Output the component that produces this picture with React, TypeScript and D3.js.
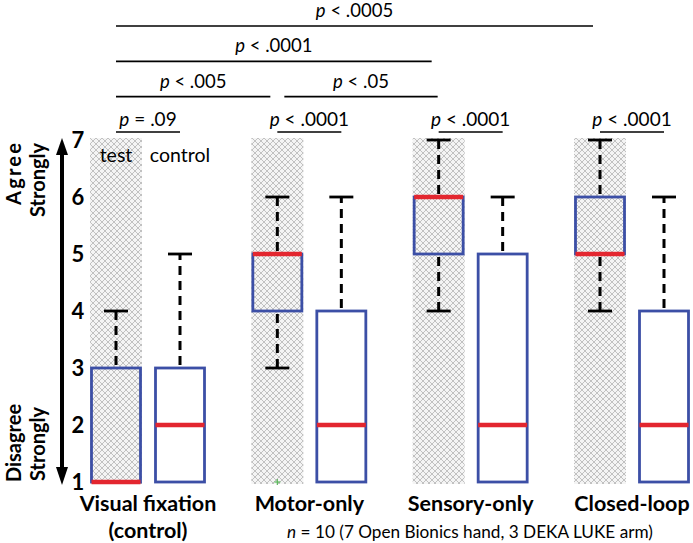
import React from 'react';
import * as d3 from 'd3';

const groups = ['Visual fixation', 'Motor-only', 'Sensory-only', 'Closed-loop'];
const groupSubLabels = ['(control)', '', '', ''];
// [min, q1, median, q3, max]
const testStats = [
  [1, 1, 1, 3, 4],
  [3, 4, 5, 5, 6],
  [4, 5, 6, 6, 7],
  [4, 5, 5, 6, 7],
];
const controlStats = [
  [1, 1, 2, 3, 5],
  [1, 1, 2, 4, 6],
  [1, 1, 2, 5, 6],
  [1, 1, 2, 4, 6],
];
const testOutliers = [[], [1], [], []];
const yTicks = [1, 2, 3, 4, 5, 6, 7];
// within-group comparisons (test vs control)
const withinP = ['= .09', '< .0001', '< .0001', '< .0001'];
// between-group comparisons of test conditions
const betweenLabels = ['< .005', '< .05', '< .0001', '< .0005'];
const betweenFrom = [0, 1, 0, 0];
const betweenTo = [1, 2, 2, 3];
const betweenLevel = [1, 1, 2, 3];

const W = 693;
const H = 543;
const FONT = 'Lato, "Open Sans", sans-serif';

export default function App() {
  const y = d3.scaleLinear().domain([1, 7]).range([482, 140]);
  const gx = d3.scaleLinear().domain([0, 3]).range([148, 632]);
  const half = 32;
  const testX = (i: number) => gx(i) - half;
  const ctrlX = (i: number) => gx(i) + half;
  const boxW = 49;
  const bandW = 52;
  const levelY = d3.scaleLinear().domain([0, 3]).range([132, 26]);

  const box = (s: number[], cx: number, key: string, hatched: boolean) => {
    const [mn, q1, md, q3, mx] = s;
    const capW = 24;
    return (
      <g key={key}>
        {mx > q3 && (
          <>
            <line x1={cx} x2={cx} y1={y(q3)} y2={y(mx)} stroke="#000" strokeWidth={3} strokeDasharray="9,6" strokeDashoffset={-3} />
            <line x1={cx - capW / 2} x2={cx + capW / 2} y1={y(mx)} y2={y(mx)} stroke="#000" strokeWidth={2.8} />
          </>
        )}
        {mn < q1 && (
          <>
            <line x1={cx} x2={cx} y1={y(q1)} y2={y(mn)} stroke="#000" strokeWidth={3} strokeDasharray="9,6" strokeDashoffset={-3} />
            <line x1={cx - capW / 2} x2={cx + capW / 2} y1={y(mn)} y2={y(mn)} stroke="#000" strokeWidth={2.8} />
          </>
        )}
        <rect
          x={cx - boxW / 2}
          y={y(q3)}
          width={boxW}
          height={y(q1) - y(q3)}
          fill={hatched ? 'url(#hatch)' : '#fff'}
          stroke="#3c4fa6"
          strokeWidth={2.8}
        />
        <line x1={cx - boxW / 2} x2={cx + boxW / 2} y1={y(md)} y2={y(md)} stroke="#e3262f" strokeWidth={4.5} />
      </g>
    );
  };

  return (
    <svg width={W} height={H} style={{ position: 'absolute', left: 0, top: 0, background: '#fff' }} fontFamily={FONT}>
      <defs>
        <pattern id="hatch" width={6} height={6} patternUnits="userSpaceOnUse">
          <rect width={6} height={6} fill="#f4f4f4" />
          <path d="M0,0 L6,6 M6,0 L0,6" stroke="#b4b4b4" strokeWidth={0.8} />
        </pattern>
      </defs>
      <rect width={W} height={H} fill="#fff" />

      {groups.map((g, i) => (
        <rect key={'band' + i} x={testX(i) - bandW / 2} y={y(7) - 2} width={bandW} height={y(1) - y(7) + 4} fill="url(#hatch)" />
      ))}

      {/* y axis arrow */}
      <line x1={62} x2={62} y1={y(7) + 12} y2={y(1) - 12} stroke="#000" strokeWidth={4} />
      <path d={`M56,${y(7) + 15} L62,${y(7) - 2} L68,${y(7) + 15} Z`} fill="#000" />
      <path d={`M56,${y(1) - 15} L62,${y(1) + 3} L68,${y(1) - 15} Z`} fill="#000" />

      {yTicks.map((t) => (
        <text key={'t' + t} x={78} y={y(t) + 8} textAnchor="middle" fontWeight="bold" fontSize={22} fill="#000">
          {t}
        </text>
      ))}

      <g fontWeight="bold" fill="#000">
        <text transform={`translate(21,174) rotate(-90)`} textAnchor="middle" fontSize={20} textLength={62} lengthAdjust="spacing">Agree</text>
        <text transform={`translate(45,180) rotate(-90)`} textAnchor="middle" fontSize={20}>Strongly</text>
        <text transform={`translate(21,443) rotate(-90)`} textAnchor="middle" fontSize={20}>Disagree</text>
        <text transform={`translate(45,444) rotate(-90)`} textAnchor="middle" fontSize={20}>Strongly</text>
      </g>

      <text x={testX(0)} y={162} textAnchor="middle" fontSize={19.5} fill="#000">test</text>
      <text x={ctrlX(0)} y={162} textAnchor="middle" fontSize={19.5} fill="#000">control</text>

      {groups.map((g, i) => box(testStats[i], testX(i), 'tb' + i, true))}
      {groups.map((g, i) => box(controlStats[i], ctrlX(i), 'cb' + i, false))}

      {testOutliers.map((os, i) =>
        os.map((o, j) => (
          <g key={'o' + i + '-' + j} stroke="#5cb85c" strokeWidth={1.2}>
            <line x1={testX(i) - 3} x2={testX(i) + 3} y1={y(o)} y2={y(o)} />
            <line x1={testX(i)} x2={testX(i)} y1={y(o) - 3} y2={y(o) + 3} />
          </g>
        ))
      )}

      {withinP.map((p, i) => (
        <g key={'w' + i}>
          <line x1={testX(i)} x2={ctrlX(i)} y1={levelY(0)} y2={levelY(0)} stroke="#000" strokeWidth={1.6} />
          <text x={gx(i)} y={levelY(0) - 6} textAnchor="middle" fontSize={19} fill="#000">
            <tspan fontStyle="italic">p</tspan> {p}
          </text>
        </g>
      ))}

      {betweenLabels.map((p, k) => {
        const x1 = testX(betweenFrom[k]) + (betweenFrom[k] > 0 ? 7 : 0);
        const x2 = testX(betweenTo[k]) - (k === 1 ? 1 : 7);
        const ly = levelY(betweenLevel[k]);
        return (
          <g key={'b' + k}>
            <line x1={x1} x2={x2} y1={ly} y2={ly} stroke="#000" strokeWidth={1.6} />
            <text x={(x1 + x2) / 2} y={ly - 9} textAnchor="middle" fontSize={18.5} fill="#000">
              <tspan fontStyle="italic">p</tspan> {p}
            </text>
          </g>
        );
      })}

      {groups.map((g, i) => (
        <g key={'gl' + i} fontWeight="bold" fontSize={21.5} fill="#000">
          <text x={gx(i)} y={511} textAnchor="middle">{g}</text>
          {groupSubLabels[i] && (
            <text x={gx(i)} y={538} textAnchor="middle">{groupSubLabels[i]}</text>
          )}
        </g>
      ))}

      <text x={470} y={538} textAnchor="middle" fontSize={17.2} fill="#000">
        <tspan fontStyle="italic">n</tspan> = 10 (7 Open Bionics hand, 3 DEKA LUKE arm)
      </text>
    </svg>
  );
}
